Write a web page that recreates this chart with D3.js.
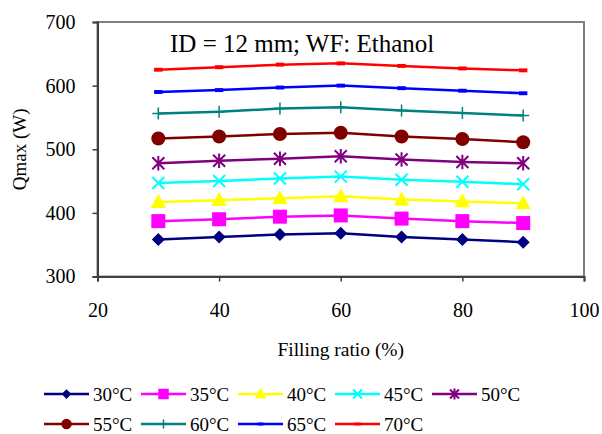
<!DOCTYPE html>
<html>
<head>
<meta charset="utf-8">
<script src="https://cdn.jsdelivr.net/npm/d3@7"></script>
<style>
  html, body { margin: 0; padding: 0; background: #fff; }
  svg { display: block; }
</style>
</head>
<body>
<svg id="chart" width="602" height="434"></svg>
<script>
// Filling ratio (%) on the x axis
const fillingRatio = [30, 40, 50, 60, 70, 80, 90];

// Maximum heat transfer rate Qmax (W) for each evaporator temperature
const q30 = [358, 362, 366, 368, 362, 358, 354];
const q35 = [387, 390, 394, 396, 391, 387, 384];
const q40 = [417, 420, 423, 426, 421, 418, 415];
const q45 = [447, 450, 454, 457, 452, 449, 445];
const q50 = [478, 482, 485, 489, 484, 480, 478];
const q55 = [517, 520, 524, 526, 520, 516, 511];
const q60 = [556, 559, 564, 566, 561, 557, 553];
const q65 = [590, 593, 597, 600, 596, 592, 588];
const q70 = [625, 629, 633, 635, 631, 627, 624];

const seriesNames = ["30°C", "35°C", "40°C", "45°C", "50°C", "55°C", "60°C", "65°C", "70°C"];
const seriesValues = [q30, q35, q40, q45, q50, q55, q60, q65, q70];
const seriesColors = ["#000080", "#FF00FF", "#FFFF00", "#00FFFF", "#800080", "#800000", "#008080", "#0000FF", "#FF0000"];
const seriesMarkers = ["diamond", "square", "triangle", "cross", "star", "circle", "plus", "bar", "bar"];

const xTicks = [20, 40, 60, 80, 100];
const yTicks = [300, 400, 500, 600, 700];

const titleText = "ID = 12 mm; WF: Ethanol";
const xLabel = "Filling ratio (%)";
const yLabel = "Qmax (W)";

const serif = "'Liberation Serif', 'Times New Roman', Times, serif";

const svg = d3.select("#chart").attr("font-family", serif);
const plot = { left: 97.5, right: 584, top: 22, bottom: 276.5 };

const x = d3.scaleLinear().domain([20, 100]).range([plot.left, plot.right]);
const y = d3.scaleLinear().domain([300, 700]).range([plot.bottom, plot.top]);

// Plot frame
svg.append("rect")
  .attr("x", plot.left).attr("y", plot.top)
  .attr("width", plot.right - plot.left).attr("height", plot.bottom - plot.top)
  .attr("fill", "none").attr("stroke", "#808080").attr("stroke-width", 2);

// Axes
const yAxis = d3.axisLeft(y).tickValues(yTicks).tickSize(5).tickPadding(17).tickFormat(d3.format("d"));
const xAxis = d3.axisBottom(x).tickValues(xTicks).tickSize(5).tickPadding(21).tickFormat(d3.format("d"));

const gy = svg.append("g").attr("transform", `translate(${plot.left},0)`).call(yAxis);
const gx = svg.append("g").attr("transform", `translate(0,${plot.bottom})`).call(xAxis);
[gx, gy].forEach(g => {
  g.attr("font-family", serif).attr("font-size", 20);
  g.select(".domain").attr("stroke", "#404040").attr("stroke-width", 2);
  g.selectAll(".tick line").attr("stroke", "#404040").attr("stroke-width", 1.5);
  g.selectAll(".tick text").attr("fill", "#000");
});

// Marker drawing
function drawMarker(g, type, color, size) {
  const s = size;
  switch (type) {
    case "diamond":
      g.append("path").attr("d", `M0,${-s}L${s},0L0,${s}L${-s},0Z`).attr("fill", color);
      break;
    case "square":
      g.append("rect").attr("x", -s).attr("y", -s).attr("width", 2 * s).attr("height", 2 * s).attr("fill", color);
      break;
    case "triangle":
      g.append("path").attr("d", `M0,${-s * 1.15}L${s * 1.1},${s * 0.85}L${-s * 1.1},${s * 0.85}Z`).attr("fill", color);
      break;
    case "cross":
      g.append("path").attr("d", `M${-s},${-s}L${s},${s}M${-s},${s}L${s},${-s}`)
        .attr("stroke", color).attr("stroke-width", 2).attr("fill", "none");
      break;
    case "star":
      g.append("path").attr("d", `M${-s},${-s}L${s},${s}M${-s},${s}L${s},${-s}M0,${-s * 1.2}L0,${s * 1.2}`)
        .attr("stroke", color).attr("stroke-width", 2).attr("fill", "none");
      break;
    case "circle":
      g.append("circle").attr("r", s).attr("fill", color);
      break;
    case "plus":
      g.append("path").attr("d", `M${-s},0L${s},0M0,${-s}L0,${s}`)
        .attr("stroke", color).attr("stroke-width", 1.5).attr("fill", "none");
      break;
    case "bar":
      g.append("rect").attr("x", -s * 0.6).attr("y", -s * 0.28).attr("width", s * 1.2).attr("height", s * 0.56).attr("fill", color);
      break;
  }
}

const markerSize = [6.5, 7, 7, 6, 6, 7, 6, 7, 7];

const line = d3.line().x((d, i) => x(fillingRatio[i])).y(d => y(d));

seriesValues.forEach((vals, k) => {
  const g = svg.append("g");
  g.append("path").datum(vals).attr("d", line)
    .attr("fill", "none").attr("stroke", seriesColors[k]).attr("stroke-width", 2.5);
  vals.forEach((v, i) => {
    const m = g.append("g").attr("transform", `translate(${x(fillingRatio[i])},${y(v)})`);
    drawMarker(m, seriesMarkers[k], seriesColors[k], markerSize[k]);
  });
});

// Title inside the plot
svg.append("text").attr("x", 170).attr("y", 52)
  .attr("font-family", serif).attr("font-size", 25).attr("fill", "#000").text(titleText);

// Axis titles
svg.append("text").attr("x", (plot.left + plot.right) / 2).attr("y", 356)
  .attr("font-family", serif).attr("text-anchor", "middle").attr("font-size", 19.5).attr("fill", "#000").text(xLabel);
svg.append("text").attr("transform", `translate(26,${(plot.top + plot.bottom) / 2}) rotate(-90)`)
  .attr("font-family", serif).attr("text-anchor", "middle").attr("font-size", 19).attr("fill", "#000").text(yLabel);

// Legend: two rows of five entries
const legend = svg.append("g");
seriesNames.forEach((name, k) => {
  const row = Math.floor(k / 5), col = k % 5;
  const lx = 44 + col * 97, ly = 394 + row * 30;
  const g = legend.append("g").attr("transform", `translate(${lx},${ly})`);
  g.append("line").attr("x1", 0).attr("x2", 45).attr("y1", 0).attr("y2", 0)
    .attr("stroke", seriesColors[k]).attr("stroke-width", 2.5);
  const m = g.append("g").attr("transform", "translate(22.5,0)");
  drawMarker(m, seriesMarkers[k], seriesColors[k], markerSize[k] * 0.75);
  g.append("text").attr("x", 49).attr("y", 6.5).attr("font-family", serif)
    .attr("font-size", 19).attr("fill", "#000").text(name);
});
</script>
</body>
</html>
